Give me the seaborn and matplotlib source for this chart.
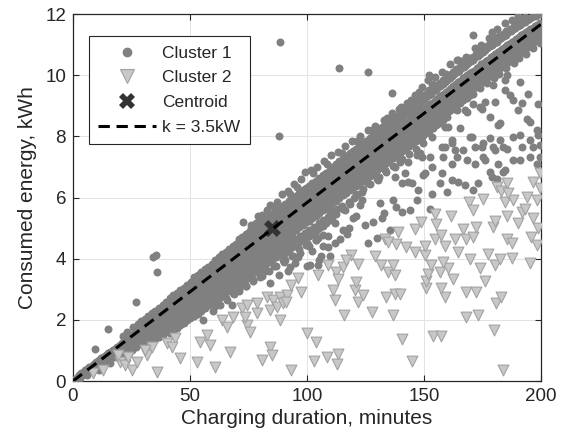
import pandas as pd
import matplotlib
matplotlib.use('Agg')
import matplotlib.pyplot as plt
from matplotlib.lines import Line2D
import seaborn as sns

# cluster 1 points (charging duration in minutes, consumed energy in kWh)
cluster1 = [
    (1,0.05),(2,0.12),(2.5,0.2),(3,0.1),(3.5,0.25),(4,0.18),(4.5,0.3),(5,0.22),(5,0.35),(5.5,0.28),
    (6,0.4),(6,0.2),(6.5,0.33),(7,0.45),(7,0.3),(7.5,0.38),(8,0.5),(8,0.32),(8.5,0.45),(9,0.55),
    (9,0.38),(9.4,1.05),(9.5,0.48),(10,0.62),(10,0.42),
    (10.5,0.55),(11,0.7),(11,0.5),(11.5,0.62),(12,0.75),(12,0.55),(12.5,0.68),(13,0.8),(13,0.6),
    (13.5,0.72),(14,0.85),(14,0.66),(14.5,0.78),(14.8,1.69),(15,0.9),(15,0.7),(15.5,0.82),(16,0.95),
    (16,0.75),(16.5,0.88),(17,1.0),(17,0.8),(17.5,0.92),(18,1.05),(18,0.85),(18.5,0.98),(19,1.12),
    (19,0.9),(19.5,1.02),(20,1.18),(20,0.95),(11,0.35),(12.25,0.42),(15.75,0.6),(18.25,0.78),
    (20.5,1.08),(21,1.25),(21,1.0),(21.5,1.15),(22,1.3),(22,1.05),(22.5,1.2),(23,1.38),(23,1.1),
    (23.5,1.28),(24,1.42),(24,1.15),(24.5,1.33),(25,1.5),(25,1.22),(25.5,1.4),(26,1.55),(26,1.28),
    (26.5,1.45),(26.9,2.59),(27,1.6),(27,1.3),(27.5,1.5),(28,1.68),(28,1.38),(28.5,1.55),(29,1.72),
    (29,1.42),(29.5,1.6),(30,1.8),(30,1.48),(30,1.2),
    (30.5,1.65),(31,1.85),(31,1.55),(31.5,1.72),(32,1.92),(32,1.6),(32,1.35),(32.5,1.8),(33,1.98),
    (33,1.65),(33.5,1.85),(34,2.05),(34,1.72),(34,1.45),(34.3,4.04),(34.5,1.9),(35,2.1),(35,1.78),
    (35.5,4.12),(35.5,1.95),(36,3.57),(36,2.18),(36,1.85),(36,1.55),(36.5,2.02),(37,2.25),(37,1.9),
    (37.5,2.1),(38,2.3),(38,1.98),(38,1.65),(38.5,2.15),(39,2.38),(39,2.05),(39.5,2.22),(40,2.45),
    (40,2.1),(40,1.8),
    (40.5,2.3),(41,2.5),(41,2.15),(41.5,2.38),(42,2.55),(42,2.2),(42,1.9),(42.5,2.42),(43,2.62),
    (43,2.3),(43.5,2.48),(44,2.7),(44,2.35),(44,2.0),(44.5,2.55),(45,2.78),(45,2.42),(45,2.15),
    (45.5,2.62),(46,2.85),(46,2.5),(46,1.95),(46.5,2.7),(47,2.92),(47,2.55),(47,2.25),(47.5,2.75),
    (48,3.0),(48,2.62),(48,2.1),(48.5,2.82),(49,3.05),(49,2.68),(49,2.35),(49.5,2.88),(50,3.12),
    (50,2.75),(50,2.45),(50,2.05),
    (50.5,2.95),(51,3.18),(51,2.8),(51,2.3),(51.5,3.0),(52,3.25),(52,2.88),(52,2.55),(52.5,3.05),
    (52.9,2.32),(53,3.3),(53,2.95),(53,2.65),(53.5,3.12),(54,3.38),(54,3.0),(54,2.7),(54.5,3.2),
    (55,3.45),(55,3.08),(55,2.8),(55.5,2.0),(55.5,3.25),(56,3.52),(56,3.15),(56,2.85),(56,2.45),
    (56.5,3.35),(57,3.58),(57,3.2),(57,2.92),(57.5,3.4),(58,3.65),(58,3.28),(58,2.98),(58,2.6),
    (58.5,3.45),(59,3.7),(59,3.35),(59,3.05),(59.5,3.5),(60,3.75),(60,3.4),(60,3.1),(60,2.75),(60,2.3),
    (60.5,3.58),(61,3.82),(61,3.45),(61,3.15),(61.5,3.65),(62,3.88),(62,3.5),(62,3.2),(62,2.85),
    (62.5,3.7),(63,3.95),(63,3.58),(63,3.28),(63,2.5),(63.5,3.75),(64,4.0),(64,3.65),(64,3.35),
    (64,3.0),(64.5,3.82),(65,4.05),(65,3.7),(65,3.4),(65.5,3.88),(66,4.12),(66,3.78),(66,3.45),
    (66,3.1),(66,2.65),(66.5,3.95),(67,4.18),(67,3.85),(67,3.52),(67.8,2.48),(67.5,4.0),(68,4.25),
    (68,3.9),(68,3.58),(68,3.2),(68.5,4.08),(69,4.3),(69,3.95),(69,3.65),(69,2.85),(69.5,4.12),
    (70,4.38),(70,4.0),(70,3.7),(70,3.35),
    (70.5,4.2),(71,4.45),(71,4.05),(71,3.75),(71,3.0),(71.5,4.25),(72,4.5),(72,4.12),(72,3.8),
    (72,3.45),(72.5,4.32),(72.8,5.21),(73,4.55),(73,4.18),(73,3.85),(73.5,4.38),(74,4.62),(74,4.25),
    (74,3.92),(74,3.55),(74,3.1),(74.5,4.45),(75,4.7),(75,4.3),(75,4.0),(75.5,4.5),(76,4.78),
    (76,4.38),(76,4.05),(76,3.65),(76,5.0),(76.5,4.55),(77,4.82),(77,4.45),(77,4.1),(77,3.3),
    (77.5,4.62),(78,4.88),(78,4.5),(78,4.15),(78,3.75),(78,5.15),(78.5,4.68),(79,4.95),(79,4.55),
    (79,4.2),(79.5,4.75),(80,5.0),(80,4.62),(80,4.28),(80,3.85),(80,3.4),(80.6,5.42),
    (80.5,4.78),(81,5.05),(81,4.68),(81,4.32),(81,3.95),(81.5,4.85),(82,5.12),(82,4.72),(82,4.38),
    (82,3.6),(82.5,4.92),(83,5.18),(83,4.8),(83,4.45),(83,4.05),(83.5,4.98),(84,5.25),(84,4.85),
    (84,4.5),(84,3.2),(84.5,5.05),(85,5.3),(85,4.9),(85,4.55),(85,4.15),(85.5,5.1),(86,5.38),
    (86,4.95),(86,4.6),(86,3.75),(86.5,5.15),(87,5.45),(87,5.0),(87,4.65),(87,4.25),(87.5,5.22),
    (88,5.5),(88,5.05),(88,4.7),(88,3.45),(88,8.02),(88.3,11.1),(88.5,5.28),(89,5.55),(89,5.12),
    (89,4.78),(89,4.35),(89.5,5.35),(90,5.62),(90,5.18),(90,4.85),(90,3.9),
    (90.5,5.4),(91,5.68),(91,5.25),(91,4.9),(91,4.45),(91.5,5.48),(92,5.75),(92,5.3),(92,4.95),
    (92,3.6),(92.5,5.52),(92.7,3.74),(93,5.8),(93,5.38),(93,5.0),(93,4.55),(93.5,5.6),(94,5.88),
    (94,5.42),(94,5.05),(94,4.1),(94.5,5.65),(95,5.92),(95,5.5),(95,5.12),(95,4.65),(95,3.85),
    (95.5,5.7),(96,5.98),(96,5.55),(96,5.18),(96.3,4.06),(96.5,5.75),(97,6.05),(97,5.6),(97,5.22),
    (97,4.75),(97,4.2),(97.5,5.82),(98,6.1),(98,5.65),(98,5.3),(98.5,5.88),(99,6.15),(99,5.72),
    (99,5.35),(99,4.85),(99.5,5.95),(100,6.2),(100,5.78),(100,5.4),(100,4.5),(100,3.75),
    (100.5,6.0),(100.6,4.44),(101,6.28),(101,5.85),(101,5.45),(101,4.95),(101.3,3.79),(101.5,6.05),
    (102,6.32),(102,5.9),(102,5.5),(102,4.25),(102.5,6.12),(103,6.4),(103,5.95),(103,5.58),(103,5.05),
    (103.5,6.18),(104,6.45),(104,6.02),(104,5.62),(104,4.6),(104.5,6.25),(104.8,4.66),(104.8,3.79),
    (105,6.5),(105,6.08),(105,5.7),(105,5.15),(105,3.95),(105.5,6.3),(106,6.58),(106,6.12),(106,5.75),
    (106,4.1),(106.5,6.38),(107,6.62),(107,6.2),(107,5.8),(107,5.25),(107,4.4),(107.5,6.45),(108,6.7),
    (108,6.25),(108,5.85),(108.5,6.5),(109,6.75),(109,6.3),(109,5.92),(109,5.35),(109,4.75),
    (109.1,4.39),(109.5,6.55),(110,6.82),(110,6.38),(110,5.98),(110,5.45),(110,4.1),
    (110.5,6.6),(111,6.88),(111,6.42),(111,6.02),(111,5.55),(111.5,6.68),(112,6.92),(112,6.48),
    (112,6.1),(112,5.15),(112,4.5),(112.5,6.72),(113,7.0),(113,6.55),(113,6.15),(113,5.62),
    (113.8,10.22),(113.5,6.8),(114,7.05),(114,6.6),(114,6.22),(114,4.65),(114.5,6.85),(115,7.1),
    (115,6.68),(115,6.28),(115,5.72),(115.5,4.93),(115.5,6.9),(116,7.18),(116,6.72),(116,6.32),
    (116.2,5.59),(116.5,6.95),(117,7.22),(117,6.78),(117,6.38),(117,4.82),(117.5,7.0),(118,7.28),
    (118,6.82),(118,6.45),(118,5.85),(118,5.0),(118.5,7.05),(119,7.35),(119,6.88),(119,6.5),
    (119.8,5.32),(119.5,7.12),(120,7.42),(120,6.95),(120,6.55),(120,6.0),
    (120.5,7.15),(121,7.48),(121,7.02),(121,6.62),(121,5.4),(121.2,6.08),(121.5,7.22),(122,7.52),
    (122,7.08),(122,6.68),(122.6,5.75),(122.5,7.28),(123,7.58),(123,7.12),(123,6.72),(123.4,6.19),
    (123.4,5.92),(123.5,7.35),(124,7.65),(124,7.18),(124,6.78),(124.8,5.1),(124.5,7.4),(125,7.7),
    (125,7.25),(125,6.85),(125.5,7.45),(125.9,10.1),(126,7.78),(126,7.3),(126,6.9),(126.2,6.46),
    (126.2,4.5),(126.5,7.52),(127,7.82),(127,7.35),(127,6.95),(127.5,7.58),(128,7.88),(128,7.42),
    (128,7.02),(128,5.2),(128.3,6.9),(128.5,7.62),(129,7.95),(129,7.48),(129,7.08),(129.8,4.66),
    (129.5,7.68),(130,8.0),(130,7.52),(130,7.12),(130.5,6.57),
    (130.5,7.72),(131,8.05),(131,7.58),(131,7.18),(131.2,5.81),(131.5,7.8),(131.9,5.32),(131.9,7.11),
    (132,8.1),(132,7.62),(132,7.22),(132.5,7.85),(133,8.18),(133,7.68),(133,7.28),(133,5.5),
    (133.3,6.9),(133.5,7.9),(134,8.22),(134,7.75),(134,7.35),(134.5,7.98),(135,8.3),(135,7.8),
    (135,7.4),(135.5,4.93),(135.5,8.02),(136,8.35),(136,7.85),(136,7.45),(136.2,9.42),(136.5,8.1),
    (136.9,5.92),(137,8.42),(137,7.9),(137,7.5),(137.6,6.68),(137.6,7.0),(137.5,8.15),(138,8.48),
    (138,7.95),(138,7.55),(138,5.7),(138.5,8.2),(139,8.55),(139,8.02),(139,7.6),(139.7,7.17),
    (139.5,8.28),(140,8.6),(140,8.08),(140,7.65),(140.5,6.46),(140.5,5.53),
    (140.5,8.32),(141,8.65),(141,8.12),(141,7.72),(141.5,8.38),(141.9,6.79),(142,8.72),(142,8.18),
    (142,7.78),(142.5,8.45),(143,8.78),(143,8.25),(143,7.85),(143.3,6.51),(143.3,7.17),(143.5,8.5),
    (144,8.85),(144,8.3),(144,7.9),(144,5.59),(144.7,6.46),(144.5,8.58),(145,8.9),(145,8.38),
    (145,7.98),(145.5,8.62),(146,8.98),(146,8.42),(146,8.02),(146.8,7.39),(146.9,5.92),(146.5,8.7),
    (147,9.02),(147,8.5),(147,8.08),(147.6,6.24),(147.5,8.75),(148,9.1),(148,8.55),(148,8.12),
    (148.3,7.44),(148.5,8.82),(149,9.15),(149,8.62),(149,8.18),(149,7.33),(149,7.98),(149.7,6.73),
    (149.5,8.88),(150,9.22),(150,8.68),(150,8.22),(150.4,6.79),
    (150.5,8.92),(151,9.28),(151,8.72),(151,8.3),(151.5,8.98),(152,9.35),(152,8.8),(152,8.35),
    (152.1,10.02),(152.6,5.64),(152.6,7.33),(152.5,9.05),(153,9.4),(153,8.85),(153,8.42),(153.3,6.13),
    (153.3,7.0),(153.3,7.98),(153.5,9.1),(154,9.48),(154,8.9),(154,8.48),(154.5,9.15),(155,9.52),
    (155,8.98),(155,8.55),(155.5,9.22),(156,9.6),(156,9.05),(156,8.6),(156.8,6.46),(156.5,9.28),
    (157,9.65),(157,9.1),(157,8.65),(157.5,7.66),(157.6,6.79),(157.5,9.35),(158,9.72),(158,9.15),
    (158,8.72),(158.2,7.33),(158.5,9.4),(159,9.78),(159,9.22),(159,8.78),(159,8.31),(159,7.66),
    (159.7,6.19),(159.5,9.45),(160,9.85),(160,9.28),(160,8.85),(160.1,8.31),
    (160.5,9.52),(161,9.9),(161,9.35),(161,8.92),(161.5,9.58),(161.8,7.88),(161.8,7.11),(161.8,6.57),
    (161.8,7.77),(162,9.98),(162,9.42),(162,8.98),(162.5,9.65),(163,10.05),(163,9.48),(163.2,7.55),
    (163.5,9.7),(164,10.1),(164,9.55),(164,8.86),(164,7.33),(164.5,9.78),(164.7,10.51),(164.7,6.51),
    (165,10.15),(165,9.6),(165.4,8.26),(165.5,9.82),(166,10.22),(166,9.68),(166.8,7.55),(166.5,9.9),
    (167,10.28),(167,9.72),(167.5,8.86),(167.5,6.41),(167.5,9.95),(168,10.32),(168,9.78),(168.2,8.8),
    (168.2,7.22),(168.5,10.02),(169,10.4),(169,9.85),(169.7,7.98),(169.5,10.08),(170,10.45),
    (170,9.9),(170.4,7.98),
    (170.5,10.1),(171,10.5),(171,9.98),(171.1,11.3),(171.1,9.07),(171.1,6.24),(171.5,10.15),
    (171.8,7.66),(171.8,7.11),(172,10.58),(172,10.05),(172.5,10.22),(173,10.62),(173,10.1),
    (173.2,6.46),(173.5,10.28),(173.9,8.96),(174,10.7),(174,10.15),(174.7,8.91),(174.7,7.66),
    (174.5,10.35),(175,10.75),(175,10.22),(175.4,7.33),(175.4,7.77),(175.5,10.4),(176,10.82),
    (176,10.28),(176.1,9.13),(176.1,7.22),(176.5,10.45),(177,10.88),(177,10.32),(177.5,10.5),
    (178,10.95),(178,10.4),(178.2,8.64),(178.2,7.93),(178.2,6.84),(178.5,10.58),(178.9,11.42),
    (178.9,6.68),(179,11.0),(179,10.45),(179.6,9.67),(179.6,7.66),(179.5,10.62),(180,11.05),
    (180,10.5),(180.3,9.13),(180.3,7.55),
    (180.5,10.68),(181,11.1),(181,10.55),(181.1,6.62),(181.8,8.37),(181.8,7.11),(181.5,10.75),
    (182,11.18),(182,10.6),(182.5,8.42),(182.5,7.88),(182.5,10.8),(183,11.22),(183,10.68),
    (183.9,7.66),(183.9,6.84),(183.5,10.85),(184,11.28),(184,10.72),(184.6,9.51),(184.6,9.84),
    (184.6,6.9),(184.5,10.92),(185,11.32),(185,10.78),(185.3,10.0),(185.3,7.6),(185.5,10.98),
    (186,11.4),(186,10.85),(186.8,9.35),(186.5,11.02),(187,11.45),(187,10.9),(187.5,11.08),
    (188,11.5),(188,10.95),(188.2,9.18),(188.2,7.98),(188.2,7.22),(188.5,11.12),(189,11.55),
    (189,11.0),(189.5,11.18),(190,11.6),(190,11.05),(190.3,11.93),(190.3,8.86),
    (190.5,11.25),(191,11.65),(191,11.1),(191,9.78),(191,8.04),(191,7.22),(191.7,7.66),(191.7,9.1),
    (191.5,11.3),(192,11.7),(192,11.15),(192.5,11.35),(193,11.75),(193,11.2),(193.9,8.58),
    (193.5,11.4),(194,11.8),(194,11.25),(194.6,9.4),(194.5,11.45),(195,11.85),(195,11.3),
    (195.3,8.47),(195.3,7.88),(195.3,7.33),(195.5,11.5),(196,11.9),(196,11.35),(196.7,7.66),
    (196.5,11.55),(197,11.4),(197.5,11.6),(198,11.95),(198,11.45),(198.2,8.2),(198.2,7.11),
    (198.5,11.65),(198.9,9.07),(198.9,8.04),(199,11.5),(199.5,11.7),(199.6,7.71),(199.6,7.33),
    (199.9,12.0),(199.5,11.3),
]

# extra cluster 1 points filling the dense band: minutes -> energies (kWh)
cluster1_band = {
    20.75: [0.76], 21.25: [1.48], 22.25: [0.85], 23.25: [1.6], 23.75: [0.93], 25.25: [1.0],
    25.75: [1.75], 26.75: [1.1], 27.75: [1.85], 28.25: [1.2], 29.25: [1.95], 29.75: [1.3],
    30.75: [2.04, 1.39, 1.09], 32.25: [2.13, 1.48, 1.2], 33.75: [2.22, 1.57, 1.28],
    35.25: [2.3, 1.66, 1.38], 36.75: [2.39, 1.74, 1.45], 38.25: [2.48, 1.83, 1.52],
    39.75: [2.57, 1.92, 1.62],
    41.25: [2.7, 2.05, 1.76, 1.58], 42.75: [2.8, 2.14, 1.85, 1.66], 44.25: [2.88, 2.23, 1.93, 1.74],
    45.75: [2.96, 2.32, 2.0, 1.82], 47.25: [3.05, 2.4, 2.1, 1.9], 48.75: [3.14, 2.49, 2.2, 2.0],
    50.25: [3.23, 2.58, 2.28, 2.08],
    51.75: [3.4, 2.74, 2.42, 2.12], 53.25: [3.48, 2.83, 2.5, 2.2], 54.75: [3.57, 2.91, 2.6, 2.3],
    56.25: [3.65, 3.0, 2.68, 2.38], 57.75: [3.74, 3.09, 2.77, 2.47], 59.25: [3.83, 3.18, 2.85, 2.55],
    60.75: [3.96, 3.29, 2.99, 2.64, 2.45], 62.25: [4.05, 3.38, 3.08, 2.73, 2.53],
    63.75: [4.14, 3.47, 3.17, 2.82], 65.25: [4.22, 3.56, 3.26, 2.9, 2.7],
    66.75: [4.31, 3.64, 3.34, 2.99], 68.25: [4.4, 3.73, 3.43, 3.08, 2.88],
    69.75: [4.49, 3.82, 3.52, 3.17],
    70.75: [4.63, 3.9, 3.58, 3.18, 2.93], 72.25: [4.7, 3.99, 3.67, 3.27],
    73.75: [4.8, 4.08, 3.75, 3.35, 3.1], 75.25: [4.88, 4.17, 3.84, 3.44],
    76.25: [5.1], 76.75: [4.97, 4.26, 3.93, 3.53, 3.28], 78.25: [5.05, 4.35, 4.01, 3.62],
    79.25: [5.4], 79.75: [5.15, 4.43, 4.1, 3.7, 3.45],
    80.75: [5.2, 4.49, 4.1, 3.72, 3.42], 82.25: [5.3, 4.58, 4.2, 3.8], 82.75: [5.6],
    83.75: [5.38, 4.66, 4.28, 3.88, 3.6], 84.25: [5.75], 85.25: [5.47, 4.75, 4.37, 3.97],
    85.75: [5.7], 86.75: [5.55, 4.84, 4.46, 4.06, 3.75], 87.25: [5.85],
    88.25: [5.64, 4.93, 4.55, 4.15], 89.25: [6.1], 89.75: [5.72, 5.01, 4.63, 4.23, 3.95],
    90.75: [5.8, 5.07, 4.68, 4.2, 3.95], 91.75: [6.2], 92.25: [5.88, 5.16, 4.76, 4.28],
    92.75: [6.1], 93.75: [5.97, 5.25, 4.85, 4.37, 4.1], 94.25: [6.45],
    95.25: [6.05, 5.33, 4.94, 4.45], 95.75: [6.35], 96.75: [6.15, 5.42, 5.02, 4.54, 4.3],
    97.25: [6.6], 98.25: [6.23, 5.51, 5.11, 4.63], 99.25: [6.85],
    99.75: [6.32, 5.6, 5.2, 4.72, 4.45],
    100.75: [6.38, 5.66, 5.23, 4.73, 4.42], 101.75: [6.9], 102.25: [6.46, 5.74, 5.32, 4.82],
    102.75: [6.8], 103.75: [6.55, 5.83, 5.4, 4.9, 4.6], 104.25: [7.0],
    105.25: [6.64, 5.92, 5.49, 4.99], 106.75: [6.72, 6.0, 5.58, 5.08, 4.78], 107.25: [7.2],
    108.25: [6.8, 6.09, 5.66, 5.16], 108.75: [7.1], 109.75: [6.9, 6.18, 5.75, 5.25],
    110.25: [7.4], 110.75: [7.0, 6.24, 5.81, 5.36], 112.25: [7.1, 6.33, 5.9, 5.45],
    113.25: [7.5], 113.75: [7.18, 6.42, 5.98], 114.75: [7.45], 115.25: [7.27, 6.5, 6.07, 5.62],
    116.25: [7.7], 116.75: [7.36, 6.59, 6.16], 118.25: [7.45, 6.68, 6.25, 5.8], 119.25: [7.85],
    119.75: [7.53, 6.77, 6.33],
    120.75: [7.6, 6.82, 6.36, 6.1], 121.25: [7.85], 122.25: [7.68, 6.91, 6.45], 122.75: [8.0],
    123.75: [7.77, 7.0, 6.54, 6.27], 125.25: [7.86, 7.09, 6.63], 126.25: [8.2],
    126.75: [7.94, 7.17, 6.71, 6.45], 127.75: [8.2], 128.25: [8.03, 7.26, 6.8], 129.25: [8.35],
    129.75: [8.12, 7.35, 6.89, 6.62],
    130.75: [8.22, 7.41, 6.95, 6.68], 132.25: [8.3, 7.5, 7.03], 132.75: [8.55],
    133.75: [8.4, 7.58, 7.12, 6.85], 134.25: [8.6], 135.25: [8.48, 7.67, 7.21], 136.25: [8.75],
    136.75: [8.57, 7.76, 7.3, 7.02], 138.25: [8.66, 7.85, 7.38], 139.25: [8.9],
    139.75: [8.75, 7.93, 7.47, 7.2],
    140.25: [8.95], 140.75: [8.8, 7.99, 7.51, 7.25], 142.25: [8.9, 8.08, 7.6], 142.75: [9.1],
    143.75: [8.98, 8.16, 7.69, 7.43], 144.25: [9.2], 145.25: [9.08, 8.25, 7.77], 146.25: [9.35],
    146.75: [9.15, 8.34, 7.86, 7.6], 147.75: [9.45], 148.25: [9.25, 8.43, 7.95], 149.25: [9.6],
    149.75: [9.33, 8.51, 8.03, 7.78],
    150.75: [9.4, 8.57, 8.1], 151.75: [9.85], 152.25: [9.5, 8.66, 8.18], 153.25: [9.72],
    153.75: [9.58, 8.75, 8.27], 154.75: [9.95], 155.25: [9.68, 8.83, 8.36], 156.75: [9.75, 8.92, 8.45],
    157.75: [10.1], 158.25: [9.85, 9.01, 8.53], 159.25: [10.05], 159.75: [9.93, 9.1, 8.62],
    160.75: [10.0, 9.08, 8.82], 161.25: [10.35], 162.25: [10.1, 9.16, 8.9], 163.75: [10.2, 9.25, 9.0],
    164.25: [10.5], 165.25: [10.28, 9.34, 9.08], 166.25: [10.45], 166.75: [10.36, 9.43, 9.18],
    167.75: [10.6], 168.25: [10.45, 9.52, 9.26], 169.75: [10.55, 9.6, 9.35],
    170.75: [10.6, 9.66, 9.4], 171.75: [10.9], 172.25: [10.7, 9.75], 173.75: [10.78, 9.83, 9.58],
    174.25: [11.0], 175.25: [10.86, 9.92], 176.75: [10.95, 10.0, 9.75], 177.75: [11.2],
    178.25: [11.05, 10.1], 179.75: [11.12, 10.18, 9.92],
    180.75: [11.2, 10.24], 181.25: [11.5], 182.25: [11.28, 10.33, 10.05], 183.75: [11.36, 10.42],
    184.75: [11.7], 185.25: [11.45, 10.5, 10.25], 186.75: [11.52, 10.6], 187.75: [11.8],
    188.25: [11.62, 10.68, 10.4], 189.75: [11.7, 10.77],
    190.75: [11.78, 10.83, 10.55], 192.25: [11.85, 10.92], 193.25: [11.9], 193.75: [10.98, 10.7],
    195.25: [11.08], 196.75: [11.17, 10.9], 198.25: [11.25], 199.75: [11.35, 11.05],
    # second pass over the lower half of the band
    100.1: [5.52], 101.6: [5.61], 103.1: [5.69], 104.6: [5.78], 106.1: [5.87], 107.6: [5.96],
    109.1: [6.04], 110.6: [6.13], 112.1: [6.22], 113.6: [6.31], 115.1: [6.39], 116.6: [6.48],
    118.1: [6.57], 119.6: [6.66], 121.1: [6.74], 122.6: [6.83], 124.1: [6.92], 125.6: [7.01],
    127.1: [7.09], 128.6: [7.18], 130.1: [7.27], 131.6: [7.36], 133.1: [7.44], 134.6: [7.53],
    136.1: [7.62], 137.6: [7.71], 139.1: [7.79], 140.6: [7.88], 142.1: [7.97], 143.6: [8.06],
    145.1: [8.14], 146.6: [8.23], 148.1: [8.32], 149.6: [8.41],
    151.1: [8.65, 8.39], 152.6: [8.74, 8.48], 154.1: [8.83, 8.57], 155.6: [8.92, 8.66],
    157.1: [9.0, 8.74], 158.6: [9.09, 8.83], 160.1: [9.18, 8.92], 161.6: [9.27, 9.01],
    163.1: [9.35, 9.09], 164.6: [9.44, 9.18], 166.1: [9.53, 9.27], 167.6: [9.62, 9.36],
    169.1: [9.7, 9.44], 170.6: [9.79, 9.53], 172.1: [9.88, 9.62], 173.6: [9.97, 9.71],
    175.1: [10.05, 9.79], 176.6: [10.14, 9.88], 178.1: [10.23, 9.97], 179.6: [10.32, 10.06],
    181.1: [10.4, 10.14], 182.6: [10.49, 10.23], 184.1: [10.58, 10.32], 185.6: [10.67, 10.41],
    187.1: [10.75, 10.49], 188.6: [10.84, 10.58], 190.1: [10.93, 10.67], 191.6: [11.02, 10.76],
    193.1: [11.1, 10.84], 194.6: [11.19, 10.93], 196.1: [11.28, 11.02], 197.6: [11.37, 11.11],
    199.1: [11.45, 11.19],
}

# cluster 2 points (minutes, kWh)
cluster2 = [
    (8.7,0.25),(12.9,0.36),(20.1,0.63),(22.2,0.52),(25.1,0.36),(27.2,0.63),(23.6,0.79),(19.4,0.85),
    (31.5,0.85),(33.6,1.12),(30.8,1.01),(35.8,0.30),(40.0,1.23),(43.6,1.39),(42.2,1.12),(45.7,0.74),
    (52.8,0.63),(54.3,1.28),(57.1,1.50),(58.5,1.18),(60.7,0.47),(67.1,0.96),(63.5,1.99),(65.7,1.77),
    (68.5,2.10),(72.1,2.38),(74.2,1.83),(75.6,1.61),(73.5,2.10),(74.2,2.48),(78.5,2.54),(78.5,2.21),
    (82.8,2.75),(85.6,2.65),(84.2,2.32),(87.0,2.43),(88.5,2.75),(89.9,2.54),(88.5,1.99),(80.6,0.69),
    (84.2,1.12),(84.9,0.85),(91.3,2.81),
    (93.3,0.35),(102.8,0.67),(108.7,0.78),(113.2,0.89),(113.0,0.56),(100.0,1.57),(104.0,1.26),
    (144.9,0.67),(140.6,1.38),(153.8,1.46),(157.1,1.46),(179.9,1.68),(183.8,0.35),(115.8,2.16),
    (127.8,2.27),(136.8,2.16),(168.1,2.08),(173.1,2.16),(180.9,2.54),(183.0,2.76),(111.8,2.65),
    (111.0,2.97),(121.8,2.59),(124.0,2.81),(120.4,2.97),(121.0,3.24),(133.9,2.76),(137.5,2.86),
    (139.6,2.84),(151.0,3.03),(151.0,3.26),(151.7,3.51),(158.8,2.76),(157.1,3.03),(168.1,2.92),
    (172.4,2.92),(175.9,3.26),(104.7,3.46),(109.0,3.78),(112.5,3.57),(115.4,3.73),(113.2,3.35),
    (118.9,4.13),(121.7,3.84),(116.8,3.95),(131.8,3.78),(134.6,3.57),(137.5,3.46),(136.8,3.78),
    (128.9,4.09),(96.2,3.37),(97.6,2.92),(93.3,3.14),(91.2,2.59),(153.1,3.78),(156.7,3.57),
    (160.3,3.68),(162.4,3.35),(158.0,3.89),(169.6,4.0),(173.9,3.68),(177.5,4.16),(180.3,3.78),
    (182.5,4.0),(133.2,4.65),(138.9,4.86),(138.2,4.49),(134.6,4.54),(142.5,4.38),(146.0,4.97),
    (146.0,4.22),(150.3,4.11),(150.3,4.43),(148.9,5.19),(154.6,5.46),(155.3,5.14),(154.6,4.65),
    (158.8,4.43),(157.4,4.76),(161.7,5.41),(163.1,4.65),(164.5,4.22),(166.7,4.97),(168.1,4.65),
    (170.9,4.70),(172.4,5.03),(169.4,5.84),(175.4,5.95),(179.7,5.03),(180.5,5.24),(184.7,5.84),
    (185.5,4.65),(185.5,5.41),(181.1,6.35),(185.3,6.46),(183.0,6.2),(171.1,5.59),
    (199.5,6.79),(196.7,6.51),(199.5,6.30),(198.1,5.92),(193.9,6.03),(188.2,5.92),(191.7,5.53),
    (196.7,5.32),(198.8,4.99),(195.9,4.72),(198.1,4.45),(195.2,3.85),(187.4,4.01),(187.4,4.50),
    (186.0,6.14),(190.3,5.15),(193.2,5.64),
]

centroid = (85.0, 5.0)
k_kw = 3.5
line_minutes = [0, 200]
line_kwh = [k_kw * m / 60 for m in line_minutes]

band_rows = [(m, e) for m, vals in cluster1_band.items() for e in vals]
df1 = pd.DataFrame(cluster1 + band_rows, columns=['minutes', 'kwh'])
df2 = pd.DataFrame(cluster2, columns=['minutes', 'kwh'])

sns.set_style('white')
plt.rcParams['font.family'] = ['Liberation Sans', 'DejaVu Sans']

c1_color = '#808080'
c2_color = '#c8c8c8'
c2_edge = '#a2a2a2'
dark = '#262626'

fig = plt.figure(figsize=(5.64, 4.44), dpi=100)
ax = fig.add_axes([73/564, 63/444, 468/564, 367/444])

sns.scatterplot(x='minutes', y='kwh', data=df1, ax=ax, color=c1_color, s=33,
                linewidth=0, marker='o', zorder=3)
sns.scatterplot(x='minutes', y='kwh', data=df2, ax=ax, color=c2_color, s=60,
                edgecolor=c2_edge, linewidth=0.8, marker='v', zorder=4)
ax.scatter([centroid[0]], [centroid[1]], marker='X', s=150, color='#333333',
           linewidths=0, zorder=5)
ax.plot(line_minutes, line_kwh, color='black', lw=2.2, dashes=(3.7, 2.2), zorder=6)

ax.set_xlim(0, 200)
ax.set_ylim(0, 12)
ax.set_xticks([0, 50, 100, 150, 200])
ax.set_yticks([0, 2, 4, 6, 8, 10, 12])
ax.grid(True, color='#e3e3e3', lw=0.7, zorder=0)
ax.set_axisbelow(True)
for sp in ax.spines.values():
    sp.set_visible(True)
    sp.set_color(dark)
    sp.set_linewidth(0.9)
ax.tick_params(direction='in', length=4, width=0.8, color=dark, labelcolor=dark,
               labelsize=13.5, top=True, right=True, bottom=True, left=True, pad=5)
ax.set_xlabel('Charging duration, minutes', fontsize=15, color=dark, labelpad=3)
ax.set_ylabel('Consumed energy, kWh', fontsize=15, color=dark, labelpad=6)

handles = [
    Line2D([], [], ls='none', marker='o', ms=6, color=c1_color, mec=c1_color),
    Line2D([], [], ls='none', marker='v', ms=10, color=c2_color, mec=c2_edge, mew=0.8),
    Line2D([], [], ls='none', marker='X', ms=12, color='#333333', mew=0),
    Line2D([], [], color='black', lw=2.2, dashes=(3.7, 2.2)),
]
labels = ['Cluster 1', 'Cluster 2', 'Centroid', 'k = 3.5kW']
leg = ax.legend(handles, labels, loc='upper left', bbox_to_anchor=(0.034, 0.940),
                borderaxespad=0, fontsize=12.5, handlelength=3.3, handletextpad=0.35,
                labelspacing=0.55, borderpad=0.55, fancybox=False, framealpha=1,
                edgecolor=dark)
leg.get_frame().set_linewidth(0.8)

fig.savefig('out.png', dpi=100)
